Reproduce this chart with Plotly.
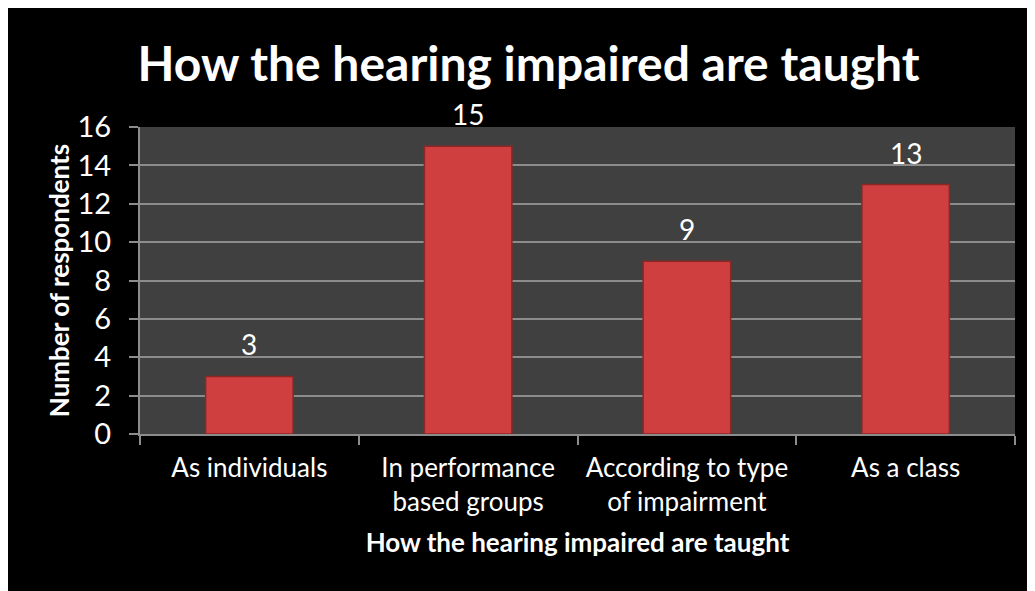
import plotly.graph_objects as go

categories = ["As individuals", "In performance<br>based groups", "According to type<br>of impairment", "As a class"]
values = [3, 15, 9, 13]
y_ticks = [0, 2, 4, 6, 8, 10, 12, 14, 16]

title_text = "How the hearing impaired are taught"
x_title = "How the hearing impaired are taught"
y_title = "Number of respondents"

FONT = "Lato, Carlito, Calibri, sans-serif"

fig = go.Figure()
fig.add_trace(go.Bar(
    x=categories, y=values,
    marker=dict(color="#cf3f3f", line=dict(color="#8e2626", width=1.5)),
    width=0.4,
    hoverinfo="skip",
))

for c, v in zip(categories, values):
    fig.add_annotation(x=c, y=v, text=str(v), showarrow=False,
                       yanchor="bottom", yshift=13,
                       font=dict(family=FONT, size=28, color="white"))

fig.update_layout(
    width=1035, height=591,
    margin=dict(l=132, r=28, t=119, b=165),
    paper_bgcolor="black",
    plot_bgcolor="#404040",
    showlegend=False,
    title=dict(text="<b>" + title_text + "</b>", x=0.503, xanchor="center",
               y=1 - 56/591, yanchor="middle",
               font=dict(family=FONT, size=48, color="white")),
    font=dict(family=FONT, color="white"),
)

fig.update_xaxes(
    type="category",
    tickson="boundaries", ticks="outside", ticklen=9, tickwidth=2, tickcolor="#8c8c8c",
    ticklabelstandoff=10,
    showline=True, linecolor="#8c8c8c", linewidth=2,
    showgrid=False,
    tickfont=dict(family=FONT, size=26, color="white"),
    title=dict(text="<b>" + x_title + "</b>", font=dict(family=FONT, size=26, color="white"), standoff=18),
)
fig.update_yaxes(
    range=[0, 16], tickvals=y_ticks,
    ticks="outside", ticklen=9, tickwidth=2, tickcolor="#8c8c8c",
    ticklabelstandoff=12,
    showline=True, linecolor="#8c8c8c", linewidth=2,
    showgrid=True, gridcolor="#8c8c8c", gridwidth=2,
    zeroline=False,
    tickfont=dict(family=FONT, size=29, color="white"),
    title=dict(text="<b>" + y_title + "</b>", font=dict(family=FONT, size=26, color="white"), standoff=0),
)

fig.write_html("out.html")
